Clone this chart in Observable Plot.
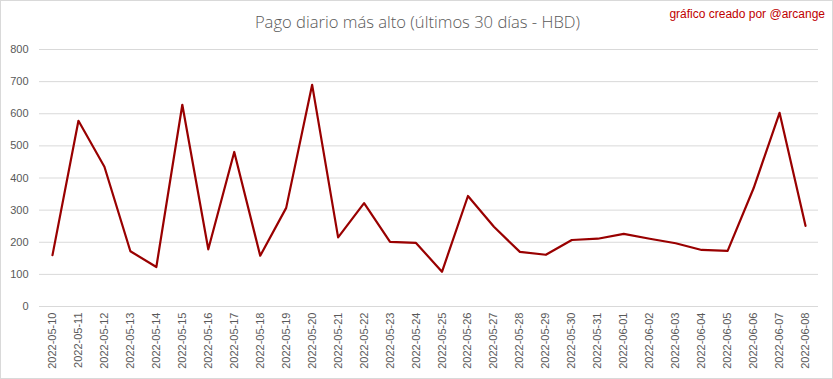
<!DOCTYPE html>
<html><head><meta charset="utf-8">
<script src="https://cdn.jsdelivr.net/npm/d3@7"></script>
<script src="https://cdn.jsdelivr.net/npm/@observablehq/plot@0.6"></script>
<style>
body{margin:0;background:#fff}
#wrap{position:relative;width:833px;height:379px;overflow:hidden}
#frame{position:absolute;left:0;top:0;width:831px;height:377px;border:1px solid #d9d9d9;pointer-events:none}
#title{position:absolute;top:10px;left:1px;width:833px;text-align:center;font:300 16.6px "Open Sans";color:#595959;white-space:nowrap}
#credit{position:absolute;top:7px;right:8px;font:12px "Liberation Sans Narrow","Liberation Sans";color:#c00000;white-space:nowrap}
#chart{position:absolute;left:0;top:0}
</style>
</head><body>
<div id="wrap">
  <div id="chart"></div>
  <div id="title">Pago diario más alto (últimos 30 días - HBD)</div>
  <div id="credit">gráfico creado por @arcange</div>
  <div id="frame"></div>
</div>
<script>
const dates = ["2022-05-10","2022-05-11","2022-05-12","2022-05-13","2022-05-14","2022-05-15","2022-05-16","2022-05-17","2022-05-18","2022-05-19","2022-05-20","2022-05-21","2022-05-22","2022-05-23","2022-05-24","2022-05-25","2022-05-26","2022-05-27","2022-05-28","2022-05-29","2022-05-30","2022-05-31","2022-06-01","2022-06-02","2022-06-03","2022-06-04","2022-06-05","2022-06-06","2022-06-07","2022-06-08"];
const values = [160,578,435,172,123,628,178,481,158,307,690,215,322,201,198,108,344,248,170,161,207,211,226,211,197,176,173,368,603,251];
const yTicks = [0,100,200,300,400,500,600,700,800];

const data = dates.map((d, i) => ({date: d, value: values[i]}));

const chart = Plot.plot({
  width: 833,
  height: 379,
  marginTop: 49,
  marginBottom: 73,
  marginLeft: 39,
  marginRight: 15,
  style: {fontFamily: "Liberation Sans", fontSize: "11px", color: "#595959", background: "transparent"},
  x: {type: "point", domain: dates, padding: 0.5, round: false, label: null, tickRotate: -90, tickSize: 0, tickPadding: 6},
  y: {domain: [0, 800], ticks: yTicks, label: null, tickSize: 0, tickPadding: 11},
  marks: [
    Plot.gridY(yTicks, {stroke: "#d9d9d9", strokeOpacity: 1}),
    Plot.line(data, {x: "date", y: "value", stroke: "#990000", strokeWidth: 2.2})
  ]
});
document.getElementById("chart").appendChild(chart);
</script>
</body></html>
